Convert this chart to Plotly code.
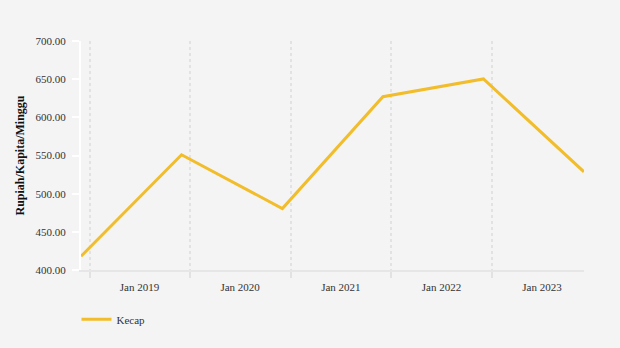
import plotly.graph_objects as go

dates = ["2018-12-01", "2019-12-01", "2020-12-01", "2021-12-01", "2022-12-01", "2023-12-01"]
kecap = [418.0, 551.0, 480.5, 627.0, 650.3, 528.6]
series_name = "Kecap"
y_title = "Rupiah/Kapita/Minggu"

fig = go.Figure()
fig.add_trace(go.Scatter(
    x=dates, y=kecap, mode="lines", name=series_name,
    line=dict(color="#F2BD2B", width=3),
))

font_family = "Liberation Serif, Times New Roman, serif"
fig.update_layout(
    width=620, height=348,
    paper_bgcolor="#F4F4F4", plot_bgcolor="#F4F4F4",
    margin=dict(l=81, r=36, t=41, b=78),
    font=dict(family=font_family, size=11, color="#333333"),
    showlegend=True,
    legend=dict(orientation="h", x=-0.009, y=-0.152, xanchor="left", yanchor="top",
                font=dict(family=font_family, size=11, color="#333333"),
                bgcolor="rgba(0,0,0,0)"),
)
fig.update_xaxes(
    type="date", range=["2018-12-01", "2023-12-01"],
    tick0="2019-01-01", dtick="M12", tickformat="%b %Y",
    ticklabelshift=50,
    showgrid=True, gridcolor="#E2E2E2", gridwidth=2, griddash="3px,3px",
    showline=True, linecolor="#E6E6E6", linewidth=2,
    ticks="outside", ticklen=6, tickcolor="#E2E2E2", tickwidth=2,
    zeroline=False,
    tickfont=dict(family=font_family, size=11, color="#333333"),
)
fig.update_yaxes(
    range=[400, 700], dtick=50, tickformat=".2f",
    showgrid=False, zeroline=False,
    showline=True, linecolor="#FFFFFF", linewidth=2,
    ticks="outside", ticklen=7, tickcolor="#FFFFFF", tickwidth=2,
    ticklabelstandoff=4,
    title=dict(text="<b>" + y_title + "</b>", font=dict(family=font_family, size=12, color="#111111"), standoff=8),
    tickfont=dict(family=font_family, size=11, color="#333333"),
)
fig.write_html("out.html")
